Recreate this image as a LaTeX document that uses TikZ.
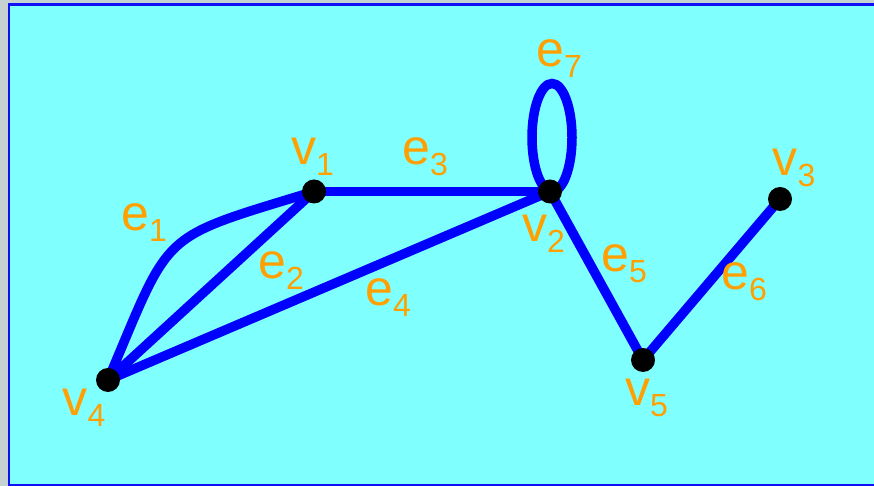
\documentclass[tikz,border=0pt]{standalone}
\usepackage{fontspec}
\setmainfont{Liberation Sans}
\usepackage{xcolor}
\usetikzlibrary{backgrounds}
\definecolor{slidegrey}{HTML}{C6D1D1}
\definecolor{bgcyan}{HTML}{80FFFF}
\definecolor{frameblue}{HTML}{1010F4}
\definecolor{linkblue}{HTML}{0000FF}
\definecolor{laborange}{HTML}{FFA000}
\newcommand{\glab}[2]{{\fontsize{50}{50}\selectfont #1}\raisebox{-11pt}{\fontsize{32}{32}\selectfont #2}}

\begin{document}
\begin{tikzpicture}[
  x=1pt, y=1pt,
  vert/.style={circle, fill=black, inner sep=0pt, minimum size=24pt},
  link/.style={draw=linkblue, line width=9.5pt},
  lab/.style={text=laborange, inner sep=0pt, anchor=base west},
]
\useasboundingbox (0,0) rectangle (874,486);

% ---- vertices ----
\node[vert] (v1) at (314,294.5) {};
\node[vert] (v2) at (550,294.5) {};
\node[vert] (v3) at (780,287) {};
\node[vert] (v4) at (108,106) {};
\node[vert] (v5) at (643,126) {};

\begin{scope}[on background layer]
% ---- backdrop ----
\fill[slidegrey] (0,0) rectangle (874,486);
\fill[bgcyan] (9,1) rectangle (874,481.5);
\draw[frameblue, line width=2.5pt] (880,481.5) -- (9,481.5) -- (9,1) -- (880,1);

% ---- edges ----
\draw[link] (v4.center) .. controls +(67:165) and +(197:165) .. (v1.center); % e1
\foreach \a/\b in {v4/v1, v1/v2, v4/v2, v2/v5, v5/v3}
  \draw[link] (\a.center) -- (\b.center);
\draw[link] ([xshift=2pt, yshift=54pt]v2.center)
  ellipse [x radius=20, y radius=54]; % e7 loop
\end{scope}

% ---- vertex labels ----
\node[lab] (lv1) at (291,321)   {\glab{v}{1}};
\node[lab] (lv2) at (522,244)   {\glab{v}{2}};
\node[lab] (lv3) at (772.5,310) {\glab{v}{3}};
\node[lab] (lv4) at (62.5,70)   {\glab{v}{4}};
\node[lab] (lv5) at (625,80)    {\glab{v}{5}};

% ---- edge labels ----
\node[lab] (le1) at (121,255) {\glab{e}{1}};
\node[lab] (le2) at (258,207) {\glab{e}{2}};
\node[lab] (le3) at (402,321) {\glab{e}{3}};
\node[lab] (le4) at (365,180) {\glab{e}{4}};
\node[lab] (le5) at (601,214) {\glab{e}{5}};
\node[lab] (le6) at (721,196) {\glab{e}{6}};
\node[lab] (le7) at (536,419) {\glab{e}{7}};
\end{tikzpicture}
\end{document}
